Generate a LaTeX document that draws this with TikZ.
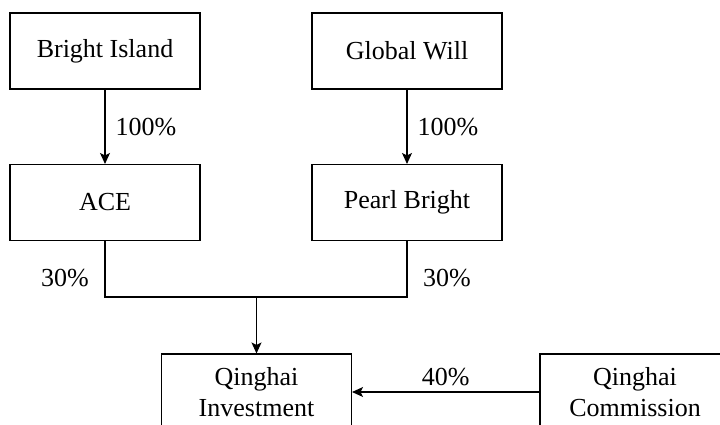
\documentclass[tikz,border=0pt]{standalone}
\usepackage{fontspec}
\setmainfont{Liberation Serif}
\usetikzlibrary{arrows.meta}
\tikzset{
    every node/.style={font=\fontsize{26}{31}\selectfont}
}
\tikzset{
    firm/.style={draw, line width=1.1pt, minimum width=190pt, minimum height=76pt,
    	align=center, inner sep=0pt}
}
\tikzset{
	pct/.style={inner sep=0pt},
	own/.style={line width=1.1pt, -{Stealth[length=11pt,width=10pt,inset=2.5pt]}}
}

\begin{document}
\begin{tikzpicture}[x=1pt, y=1pt]
	\useasboundingbox (0,0) rectangle (720,-424);
	\node (bright) [firm] at (105, -51) {Bright Island};
	\node (global) [firm] at (407, -51) {Global Will};
	\node (ace) [firm] at (105, -202.5) {ACE};
	\node (pearl) [firm] at (407, -202.5) {Pearl Bright};
	\node (inv) [firm] at (256.5, -392) {Qinghai\\Investment};
	\node (comm) [firm] at (635, -392) {Qinghai\\Commission};
	\coordinate (join) at (256.5, -297);
	
	\draw [own] (bright) -- node [pct, right=10pt] {100\%} (ace);
	\draw [own] (global) -- node [pct, right=10pt] {100\%} (pearl);
	\draw [line width=1.1pt] (ace) |- (join);
	\draw [line width=1.1pt] (join) -| (pearl);
	\draw [own] (join) -- (inv);
	\draw [own] (comm) -- node [pct, above=6pt] {40\%} (inv);
	
	\node (l30) [pct] at (65, -278) {30\%};
	\node (r30) [pct] at (447, -278) {30\%};
\end{tikzpicture}
\end{document}
